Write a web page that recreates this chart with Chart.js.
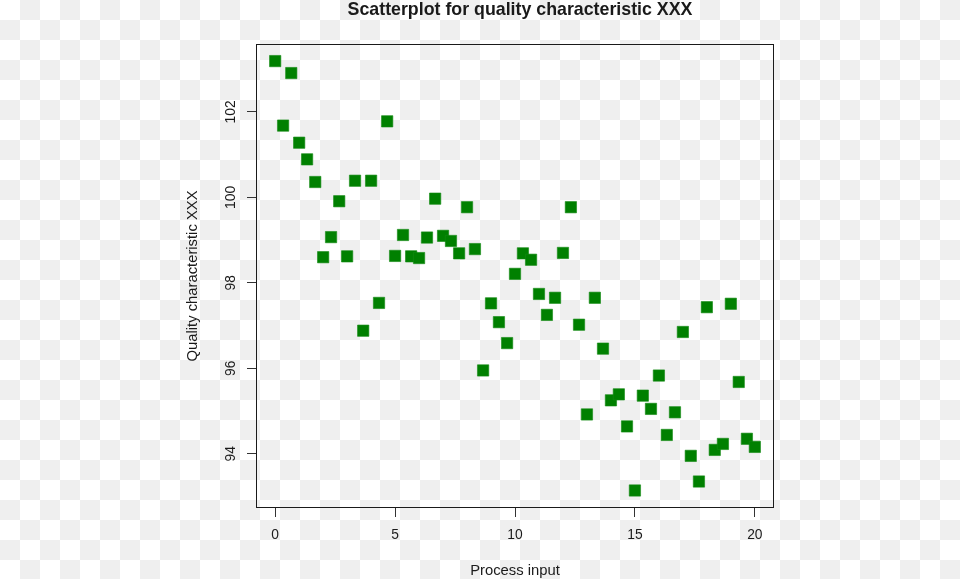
<!DOCTYPE html>
<html>
<head>
<meta charset="utf-8">
<script src="https://cdn.jsdelivr.net/npm/chart.js@4"></script>
<style>
    html, body { margin: 0; padding: 0; }
    body {
        width: 960px;
        height: 579px;
        overflow: hidden;
        background: repeating-conic-gradient(#efefef 0 25%, #ffffff 0 50%) 0 0 / 40px 40px;
    }
    canvas { display: block; }
</style>
</head>
<body>
<canvas id="chart" width="960" height="579"></canvas>
<script>
// Datos
const xValues = [
    0, 0.33, 0.67, 1, 1.33, 1.67, 2, 2.33, 2.67, 3,
    3.33, 3.67, 4, 4.33, 4.67, 5, 5.33, 5.67, 6, 6.33,
    6.67, 7, 7.33, 7.67, 8, 8.33, 8.67, 9, 9.33, 9.67,
    10, 10.33, 10.67, 11, 11.33, 11.67, 12, 12.33, 12.67, 13,
    13.33, 13.67, 14, 14.33, 14.67, 15, 15.33, 15.67, 16, 16.33,
    16.67, 17, 17.33, 17.67, 18, 18.33, 18.67, 19, 19.33, 19.67,
    20
];
const yValues = [
    103.19, 101.68, 102.91, 101.28, 100.89, 100.36, 98.60, 99.07, 99.91, 98.62,
    100.39, 96.88, 100.39, 97.53, 101.78, 98.63, 99.12, 98.62, 98.58, 99.06,
    99.97, 99.10, 98.98, 98.69, 99.77, 98.79, 95.95, 97.52, 97.08, 96.59,
    98.21, 98.69, 98.54, 97.74, 97.25, 97.65, 98.70, 99.77, 97.02, 94.92,
    97.65, 96.46, 95.25, 95.39, 94.64, 93.14, 95.36, 95.05, 95.83, 94.44,
    94.97, 96.85, 93.95, 93.35, 97.43, 94.09, 94.23, 97.51, 95.68, 94.35,
    94.16
];
const xTicks = [0, 5, 10, 15, 20];
const yTicks = [94, 96, 98, 100, 102];

const chartTitle = "Scatterplot for quality characteristic XXX";
const xLabel = "Process input";
const yLabel = "Quality characteristic XXX";

const FONT = '"Liberation Sans", Arial, Helvetica, sans-serif';
const INK = "#1a1a1a";

// Marco, etiquetas rotadas del eje Y y títulos (estilo R base graphics)
const frameAndLabels = {
    id: "frameAndLabels",
    afterDraw(chart) {
        const { ctx, chartArea: a, scales } = chart;
        ctx.save();
        ctx.strokeStyle = INK;
        ctx.lineWidth = 1;
        ctx.strokeRect(Math.round(a.left) + 0.5, Math.round(a.top) + 0.5,
            Math.round(a.right - a.left) - 1, Math.round(a.bottom - a.top) - 1);

        ctx.fillStyle = INK;
        ctx.font = "13.8px " + FONT;
        ctx.textAlign = "center";
        ctx.textBaseline = "alphabetic";
        scales.y.ticks.forEach(t => {
            const py = scales.y.getPixelForValue(t.value);
            ctx.save();
            ctx.translate(234.5, py);
            ctx.rotate(-Math.PI / 2);
            ctx.fillText(String(t.value), 0, 0);
            ctx.restore();
        });

        const cx = (a.left + a.right) / 2;
        const cy = (a.top + a.bottom) / 2;

        ctx.font = "14.8px " + FONT;
        ctx.fillText(xLabel, cx, 575);

        ctx.save();
        ctx.translate(197, cy);
        ctx.rotate(-Math.PI / 2);
        ctx.fillText(yLabel, 0, 0);
        ctx.restore();

        ctx.font = "bold 17.8px " + FONT;
        ctx.fillText(chartTitle, cx + 5, 15);
        ctx.restore();
    }
};

function initScatter() {
    const canvas = document.getElementById("chart");
    const points = xValues.map((x, i) => ({ x: x, y: yValues[i] }));

    new Chart(canvas, {
        type: "scatter",
        data: {
            datasets: [{
                data: points,
                pointStyle: "rect",
                pointRadius: 8,
                pointHoverRadius: 8,
                backgroundColor: "#008000",
                borderColor: "#138a13",
                borderWidth: 0.6
            }]
        },
        options: {
            responsive: false,
            animation: false,
            events: [],
            layout: { padding: { top: 44, right: 186, left: 0, bottom: 0 } },
            plugins: {
                legend: { display: false },
                tooltip: { enabled: false },
                title: { display: false }
            },
            scales: {
                x: {
                    type: "linear",
                    min: -0.8,
                    max: 20.8,
                    afterBuildTicks: s => { s.ticks = xTicks.map(v => ({ value: v })); },
                    afterFit: s => { s.height = 71; },
                    border: { display: false },
                    grid: { drawOnChartArea: false, drawTicks: true, tickLength: 9, color: "#333", lineWidth: 1 },
                    ticks: {
                        padding: 10,
                        color: INK,
                        font: { family: FONT, size: 13.8 },
                        maxRotation: 0
                    }
                },
                y: {
                    type: "linear",
                    min: 92.73,
                    max: 103.59,
                    afterBuildTicks: s => { s.ticks = yTicks.map(v => ({ value: v })); },
                    afterFit: s => { s.width = 256; },
                    border: { display: false },
                    grid: { drawOnChartArea: false, drawTicks: true, tickLength: 9, color: "#333", lineWidth: 1 },
                    ticks: { color: "rgba(0,0,0,0)", font: { family: FONT, size: 13.8 } }
                }
            }
        },
        plugins: [frameAndLabels]
    });
}

document.addEventListener("DOMContentLoaded", initScatter);
</script>
</body>
</html>
